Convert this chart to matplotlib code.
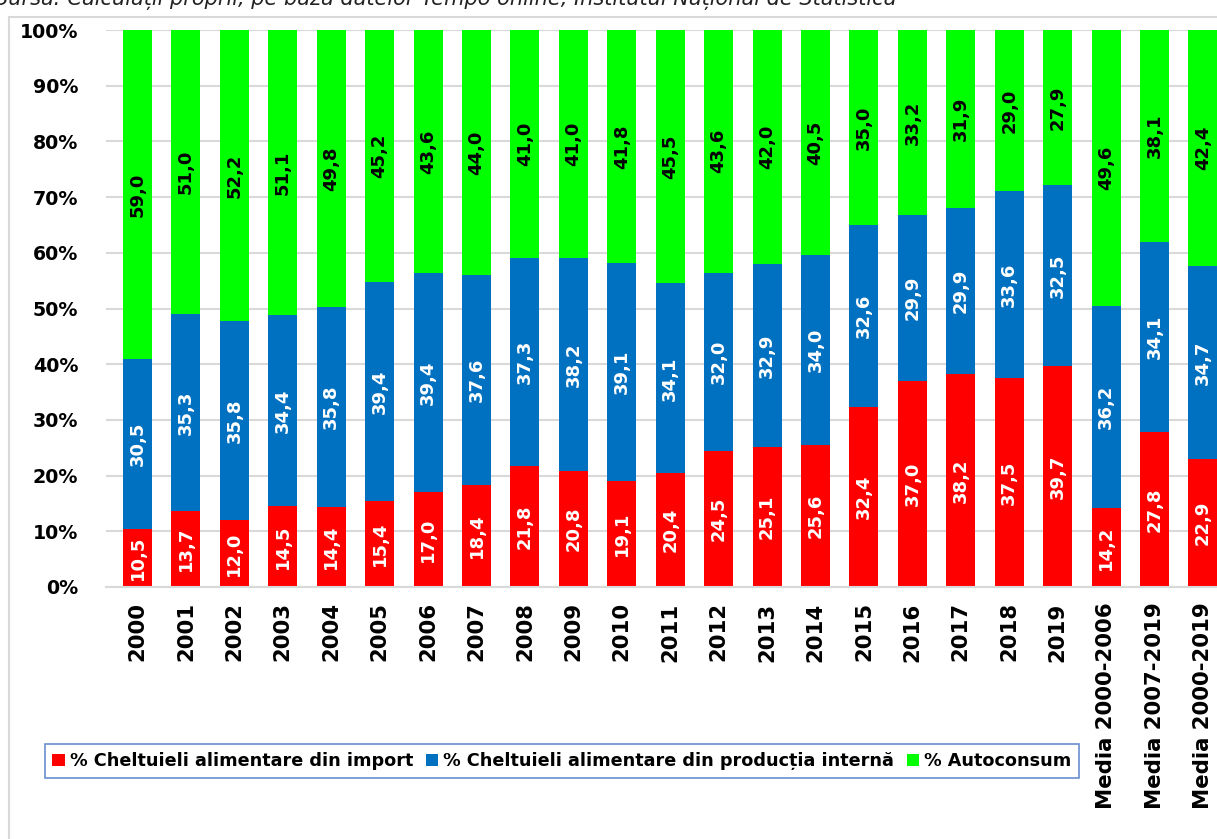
import numpy as np
import matplotlib.pyplot as plt
from matplotlib.patches import Rectangle

categories = ['2000', '2001', '2002', '2003', '2004', '2005', '2006', '2007',
              '2008', '2009', '2010', '2011', '2012', '2013', '2014', '2015',
              '2016', '2017', '2018', '2019',
              'Media 2000-2006', 'Media 2007-2019', 'Media 2000-2019']
import_pct = [10.5, 13.7, 12.0, 14.5, 14.4, 15.4, 17.0, 18.4, 21.8, 20.8, 19.1, 20.4,
              24.5, 25.1, 25.6, 32.4, 37.0, 38.2, 37.5, 39.7, 14.2, 27.8, 22.9]
intern_pct = [30.5, 35.3, 35.8, 34.4, 35.8, 39.4, 39.4, 37.6, 37.3, 38.2, 39.1, 34.1,
              32.0, 32.9, 34.0, 32.6, 29.9, 29.9, 33.6, 32.5, 36.2, 34.1, 34.7]
auto_pct = [59.0, 51.0, 52.2, 51.1, 49.8, 45.2, 43.6, 44.0, 41.0, 41.0, 41.8, 45.5,
            43.6, 42.0, 40.5, 35.0, 33.2, 31.9, 29.0, 27.9, 49.6, 38.1, 42.4]
series_names = ['% Cheltuieli alimentare din import',
                '% Cheltuieli alimentare din producția internă',
                '% Autoconsum']
colors = ['#FF0000', '#0070C0', '#00FF00']
label_colors = ['white', 'white', 'black']

plt.rcParams['font.family'] = ['DejaVu Sans']

fig = plt.figure(figsize=(12.17, 8.39), dpi=100)
W, H = 1217, 839

# outer chart frame
fig.patches.append(Rectangle((9 / W, -0.05), 1.0, 1 - 17 / H + 0.05,
                             transform=fig.transFigure, fill=False,
                             edgecolor='#D9D9D9', linewidth=1.5))

fig.text(-0.004, 1 - 5.5 / H, 'Sursa: Calculații proprii, pe baza datelor Tempo online, '
         'Institutul Național de Statistică', fontsize=15, style='italic',
         ha='left', va='baseline', color='#222222')

ax = fig.add_axes([106 / W, 1 - 587 / H, 1 - 106 / W, (587 - 30) / H])

data = np.array([import_pct, intern_pct, auto_pct])
data = data / data.sum(axis=0) * 100
x = np.arange(len(categories))
bottom = np.zeros(len(categories))
for i in range(3):
    ax.bar(x, data[i], 0.6, bottom=bottom, color=colors[i],
           label=series_names[i], zorder=2)
    raw = [import_pct, intern_pct, auto_pct][i]
    for xi, b, h, v in zip(x, bottom, data[i], raw):
        ax.text(xi, b + h / 2, f'{v:.1f}'.replace('.', ','), rotation=90,
                ha='center', va='center', fontsize=13, fontweight='bold',
                color=label_colors[i], zorder=3)
    bottom += data[i]

ax.set_xlim(-0.65, 22.29)
ax.set_ylim(0, 100)
ax.set_yticks(np.arange(0, 101, 10))
ax.set_yticklabels([f'{v}%' for v in range(0, 101, 10)], fontsize=13.7,
                   fontweight='bold')
ax.set_xticks(x)
ax.set_xticklabels(categories, rotation=90, fontsize=15.3, fontweight='bold')
ax.tick_params(length=0)
ax.tick_params(axis='x', pad=11)
ax.tick_params(axis='y', pad=20)
ax.grid(axis='y', color='#D9D9D9', linewidth=1.5, zorder=0)
for s in ['top', 'right', 'left']:
    ax.spines[s].set_visible(False)
ax.spines['bottom'].set_color('#D9D9D9')
ax.spines['bottom'].set_linewidth(1.5)

leg = fig.legend(loc='center', bbox_to_anchor=(562 / W, 1 - 761 / H), ncol=3,
                 prop={'weight': 'bold', 'size': 12.7},
                 handlelength=0.7, handleheight=0.7, handletextpad=0.3,
                 columnspacing=0.7, fancybox=False, borderpad=0.45)
leg.get_frame().set_edgecolor('#4472C4')
leg.get_frame().set_linewidth(1.2)

fig.savefig('out.png', dpi=100)
